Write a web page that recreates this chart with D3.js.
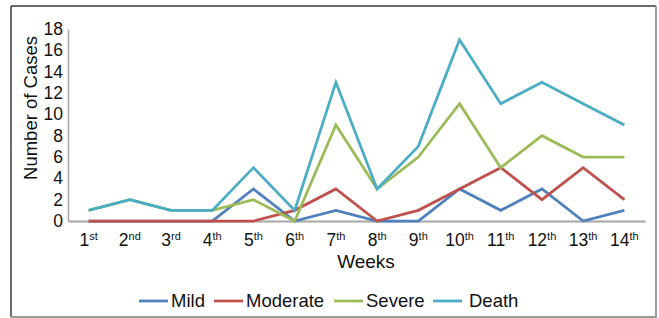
<!DOCTYPE html>
<html>
<head>
<meta charset="utf-8">
<script src="https://cdn.jsdelivr.net/npm/d3@7/dist/d3.min.js"></script>
<style>
  html, body { margin: 0; padding: 0; background: #fff; }
  svg { display: block; font-family: "Liberation Sans", Arial, sans-serif; }
</style>
</head>
<body>
<svg id="chart" width="659" height="318"></svg>
<script>
const weeks = ["1", "2", "3", "4", "5", "6", "7", "8", "9", "10", "11", "12", "13", "14"];
const suffixes = ["st", "nd", "rd", "th", "th", "th", "th", "th", "th", "th", "th", "th", "th", "th"];
const yTicks = [0, 2, 4, 6, 8, 10, 12, 14, 16, 18];
const seriesNames = ["Mild", "Moderate", "Severe", "Death"];
const mild = [0, 0, 0, 0, 3, 0, 1, 0, 0, 3, 1, 3, 0, 1];
const moderate = [0, 0, 0, 0, 0, 1, 3, 0, 1, 3, 5, 2, 5, 2];
const severe = [1, 2, 1, 1, 2, 0, 9, 3, 6, 11, 5, 8, 6, 6];
const death = [1, 2, 1, 1, 5, 1, 13, 3, 7, 17, 11, 13, 11, 9];
const colors = ["#4F81BD", "#C0504D", "#9BBB59", "#4BACC6"];

const series = [mild, moderate, severe, death].map((vals, i) => ({ name: seriesNames[i], values: vals, color: colors[i] }));

const svg = d3.select("#chart");

// frame
svg.append("line").attr("x1", 11).attr("y1", 6).attr("x2", 656).attr("y2", 6).attr("stroke", "#3a3a3a").attr("stroke-width", 1.5);
svg.append("line").attr("x1", 11).attr("y1", 6).attr("x2", 11).attr("y2", 317).attr("stroke", "#3a3a3a").attr("stroke-width", 1.5);
svg.append("line").attr("x1", 656).attr("y1", 6).attr("x2", 656).attr("y2", 317).attr("stroke", "#9a9a9a").attr("stroke-width", 2);
svg.append("line").attr("x1", 11).attr("y1", 317).attr("x2", 657).attr("y2", 317).attr("stroke", "#9a9a9a").attr("stroke-width", 2);

const x = d3.scaleBand().domain(weeks).range([68, 645]).padding(0);
const y = d3.scaleLinear().domain([0, 18]).range([221, 29]);

// y axis
const yAxis = d3.axisLeft(y).tickValues(yTicks).tickSize(0).tickPadding(5);
const yg = svg.append("g").attr("transform", "translate(68,0)").call(yAxis);
yg.select(".domain").attr("stroke", "#a6a6a6").attr("stroke-width", 1.5);
yg.selectAll("text").attr("font-size", "17.5px").attr("fill", "#111").attr("font-family", "Liberation Sans, Arial, sans-serif");

// x axis
const xAxis = d3.axisBottom(x).tickSize(0).tickFormat("");
const xg = svg.append("g").attr("transform", "translate(0,221)").call(xAxis);
xg.select(".domain").attr("stroke", "#a6a6a6").attr("stroke-width", 2);

const xl = svg.append("g");
weeks.forEach((w, i) => {
  const t = xl.append("text")
    .attr("x", x(w) + x.bandwidth() / 2)
    .attr("y", 246)
    .attr("text-anchor", "middle")
    .attr("font-size", "17.5px")
    .attr("fill", "#111");
  t.append("tspan").text(w);
  t.append("tspan").text(suffixes[i]).attr("font-size", "11px").attr("dy", -6.5);
});

// axis titles
svg.append("text")
  .attr("x", 366).attr("y", 268)
  .attr("text-anchor", "middle")
  .attr("font-size", "19px")
  .attr("fill", "#111")
  .text("Weeks");

svg.append("text")
  .attr("transform", "translate(37,108) rotate(-90)")
  .attr("text-anchor", "middle")
  .attr("font-size", "18.5px")
  .attr("fill", "#111")
  .text("Number of Cases");

// lines
const line = d3.line()
  .x((d, i) => x(weeks[i]) + x.bandwidth() / 2)
  .y(d => y(d));

svg.append("g").selectAll("path")
  .data(series)
  .join("path")
  .attr("d", d => line(d.values))
  .attr("fill", "none")
  .attr("stroke", d => d.color)
  .attr("stroke-width", 2.75)
  .attr("stroke-linejoin", "miter");

// legend
const legendX = [139, 214, 334, 433];
const lg = svg.append("g");
series.forEach((s, i) => {
  lg.append("line")
    .attr("x1", legendX[i]).attr("x2", legendX[i] + 29)
    .attr("y1", 301).attr("y2", 301)
    .attr("stroke", s.color).attr("stroke-width", 2.75);
  lg.append("text")
    .attr("x", legendX[i] + (i === 3 ? 36 : 32))
    .attr("y", 307)
    .attr("font-size", "18.5px")
    .attr("fill", "#111")
    .text(s.name);
});
</script>
</body>
</html>
